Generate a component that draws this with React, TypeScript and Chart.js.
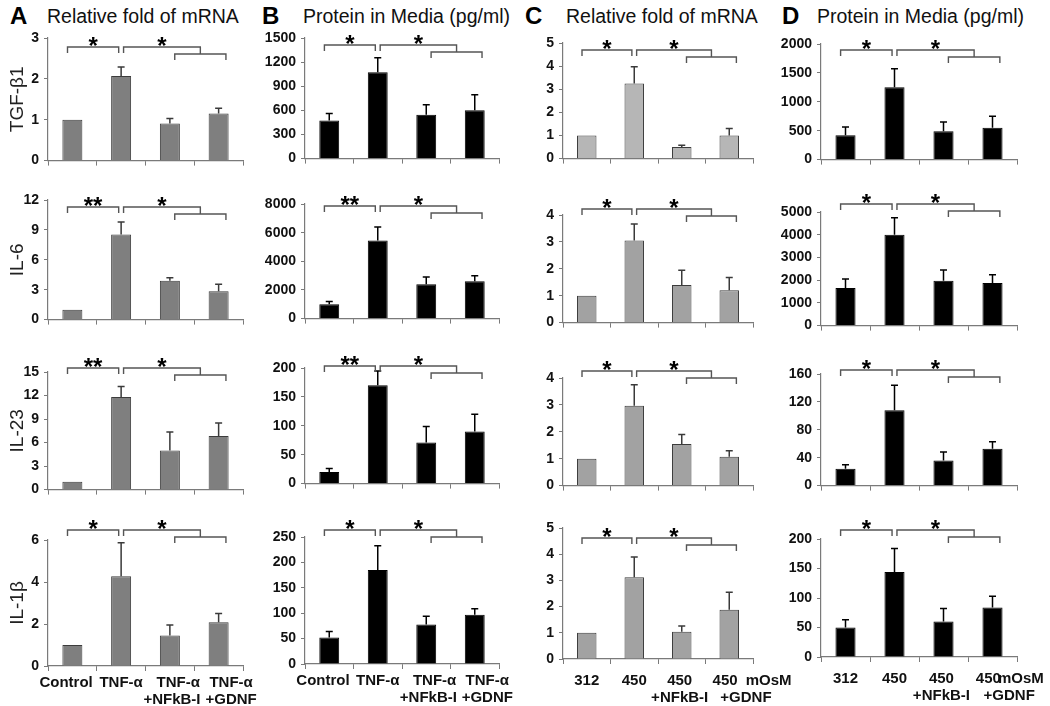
import React, { useEffect, useRef } from "react";
import { Chart, registerables } from "chart.js";
Chart.register(...registerables);

const FONT = "'Liberation Sans', Arial, Helvetica, sans-serif";

// ---- categories / labels ----
const treatmentLabels = [["Control"], ["TNF-α"], ["TNF-α", "+NFkB-I"], ["TNF-α", "+GDNF"]];
const osmLabels = [["312"], ["450"], ["450", "+NFkB-I"], ["450", "+GDNF"]];
const osmUnit = "mOsM";
const cytokines = ["TGF-β1", "IL-6", "IL-23", "IL-1β"];
const panelLetters = ["A", "B", "C", "D"];
const panelTitles = ["Relative fold of mRNA", "Protein in Media (pg/ml)", "Relative fold of mRNA", "Protein in Media (pg/ml)"];

// ---- Column A: relative fold of mRNA (TNF-α) ----
const tgfMrnaA = [1, 2.07, 0.91, 1.15];
const tgfMrnaAErr = [0, 0.22, 0.12, 0.13];
const il6MrnaA = [1, 8.55, 3.9, 2.85];
const il6MrnaAErr = [0, 1.25, 0.3, 0.7];
const il23MrnaA = [1, 11.8, 5.0, 6.85];
const il23MrnaAErr = [0, 1.35, 2.35, 1.65];
const il1bMrnaA = [1, 4.27, 1.45, 2.08];
const il1bMrnaAErr = [0, 1.6, 0.5, 0.42];

// ---- Column B: protein in media (TNF-α) ----
const tgfProtB = [475, 1075, 545, 600];
const tgfProtBErr = [85, 180, 125, 195];
const il6ProtB = [1000, 5450, 2400, 2600];
const il6ProtBErr = [200, 950, 500, 400];
const il23ProtB = [20, 170, 71, 90];
const il23ProtBErr = [6, 25, 28, 30];
const il1bProtB = [52, 185, 78, 97];
const il1bProtBErr = [12, 48, 16, 12];

// ---- Column C: relative fold of mRNA (hyperosmolarity) ----
const tgfMrnaC = [1, 3.25, 0.5, 1.0];
const tgfMrnaCErr = [0, 0.72, 0.08, 0.3];
const il6MrnaC = [1, 3.05, 1.4, 1.2];
const il6MrnaCErr = [0, 0.62, 0.55, 0.48];
const il23MrnaC = [1, 2.97, 1.55, 1.07];
const il23MrnaCErr = [0, 0.78, 0.35, 0.23];
const il1bMrnaC = [1, 3.12, 1.04, 1.88];
const il1bMrnaCErr = [0, 0.77, 0.22, 0.67];

// ---- Column D: protein in media (hyperosmolarity) ----
const tgfProtD = [420, 1250, 490, 550];
const tgfProtDErr = [145, 320, 160, 200];
const il6ProtD = [1650, 4000, 1970, 1870];
const il6ProtDErr = [400, 750, 480, 370];
const il23ProtD = [24, 108, 36, 53];
const il23ProtDErr = [6, 36, 12, 10];
const il1bProtD = [50, 144, 60, 84];
const il1bProtDErr = [13, 40, 22, 19];

// ---- y axis ranges [row][col] ----
const axisMax = [
  [3, 1500, 5, 2000],
  [12, 8000, 4, 5000],
  [15, 200, 4, 160],
  [6, 250, 5, 200],
];
const axisStep = [
  [1, 300, 1, 500],
  [3, 2000, 1, 1000],
  [3, 50, 1, 40],
  [2, 50, 1, 50],
];
const significance = [
  [["*", "*"], ["*", "*"], ["*", "*"], ["*", "*"]],
  [["**", "*"], ["**", "*"], ["*", "*"], ["*", "*"]],
  [["**", "*"], ["**", "*"], ["*", "*"], ["*", "*"]],
  [["*", "*"], ["*", "*"], ["*", "*"], ["*", "*"]],
];

const values = [
  [tgfMrnaA, tgfProtB, tgfMrnaC, tgfProtD],
  [il6MrnaA, il6ProtB, il6MrnaC, il6ProtD],
  [il23MrnaA, il23ProtB, il23MrnaC, il23ProtD],
  [il1bMrnaA, il1bProtB, il1bMrnaC, il1bProtD],
];
const errors = [
  [tgfMrnaAErr, tgfProtBErr, tgfMrnaCErr, tgfProtDErr],
  [il6MrnaAErr, il6ProtBErr, il6MrnaCErr, il6ProtDErr],
  [il23MrnaAErr, il23ProtBErr, il23MrnaCErr, il23ProtDErr],
  [il1bMrnaAErr, il1bProtBErr, il1bMrnaCErr, il1bProtDErr],
];

// ---- layout ----
const colLeft = [0, 256, 516, 776];
const colAxis = [48, 305, 563, 821];
const colRight = [243, 499, 753, 1017];
const plotTop = [
  [38, 38, 43, 44],
  [200, 204, 215, 212],
  [372, 368, 378, 374],
  [540, 537, 528, 539],
];
const plotZero = [
  [168, 166, 166, 167],
  [327, 326, 330, 333],
  [497, 491, 493, 493],
  [666, 664, 659, 657],
];
const bracketOff = [
  [9, 7, 7, 6],
  [7, 2, -6, -8],
  [-4, -2, -7, -4],
  [-10, -7, 10, -9],
];
// horizontal nudge (px) of each tick-label line, per label group
const labelShiftTreat = [[-7], [0], [8, 3], [12, 12]];
const labelShiftOsm = [[0], [-1], [-3, -3], [-4, 16]];
const unitGap = [0, 0, 8, -3];
const letterX = [10, 262, 525, 782];
const titleX = [47, 303, 566, 817];

const AXIS_COLOR = "#7a7a7a";
const TOP_ROOM = 48;
const SPACE_W = 4.17;

function nudge(text: string, shift: number) {
  const n = Math.round((Math.abs(shift) * 2) / SPACE_W);
  const pad = " ".repeat(n);
  return shift >= 0 ? pad + text : text + pad;
}

function barFill(row: number, col: number) {
  if (col === 1 || col === 3) return "#000000";
  if (col === 0) return "#7f7f7f";
  return row === 0 ? "#b6b6b6" : "#a2a2a2";
}

function Panel({ row, col }: { row: number; col: number }) {
  const ref = useRef<HTMLCanvasElement>(null);
  const bottomRow = row === 3;
  const bottomRoom = bottomRow ? 48 : 6;
  const left = colLeft[col];
  const top = plotTop[row][col] - TOP_ROOM;
  const width = col === 3 ? 1050 - left : colRight[col] - left + 46;
  const height = plotZero[row][col] - top + bottomRoom;
  const padRight = width - (colRight[col] - left);
  const yWidth = colAxis[col] - left;

  useEffect(() => {
    const vals = values[row][col];
    const errs = errors[row][col];
    const cats = col < 2 ? treatmentLabels : osmLabels;
    const shifts = col < 2 ? labelShiftTreat : labelShiftOsm;
    const tickPad = col < 2 ? 4 : 9;
    const [s1, s2] = significance[row][col];
    const off = bracketOff[row][col];

    const errPlugin = {
      id: "errbars",
      afterDatasetsDraw(chart: any) {
        const ctx = chart.ctx;
        const ys = chart.scales.y;
        const meta = chart.getDatasetMeta(0);
        ctx.save();
        ctx.strokeStyle = col === 1 || col === 3 ? "#000" : "#3a3a3a";
        ctx.lineWidth = 1.5;
        meta.data.forEach((bar: any, i: number) => {
          const e = errs[i];
          if (!e) return;
          const yb = ys.getPixelForValue(vals[i]);
          const yt = ys.getPixelForValue(vals[i] + e);
          ctx.beginPath();
          ctx.moveTo(bar.x, yb);
          ctx.lineTo(bar.x, yt);
          ctx.moveTo(bar.x - 3.5, yt);
          ctx.lineTo(bar.x + 3.5, yt);
          ctx.stroke();
        });
        ctx.restore();
      },
    };

    const bracketPlugin = {
      id: "brackets",
      afterDraw(chart: any) {
        const ctx = chart.ctx;
        const xs = chart.scales.x;
        const px = (v: number) => xs.getPixelForValue(v);
        const y1 = chart.chartArea.top + off;
        const y2 = y1 + 7;
        const leg = 6;
        const b1 = [-0.1, 0.95];
        const b3 = [2.1, 3.15];
        const b2 = [1.05, (b3[0] + b3[1]) / 2];
        ctx.save();
        ctx.strokeStyle = "#555";
        ctx.lineWidth = 1.4;
        ctx.beginPath();
        ctx.moveTo(px(b1[0]), y1 + leg);
        ctx.lineTo(px(b1[0]), y1);
        ctx.lineTo(px(b1[1]), y1);
        ctx.lineTo(px(b1[1]), y1 + leg);
        ctx.moveTo(px(b2[0]), y1 + leg);
        ctx.lineTo(px(b2[0]), y1);
        ctx.lineTo(px(b2[1]), y1);
        ctx.lineTo(px(b2[1]), y2);
        ctx.moveTo(px(b3[0]), y2 + leg);
        ctx.lineTo(px(b3[0]), y2);
        ctx.lineTo(px(b3[1]), y2);
        ctx.lineTo(px(b3[1]), y2 + leg);
        ctx.stroke();
        ctx.fillStyle = "#000";
        ctx.font = `bold 24px ${FONT}`;
        ctx.textAlign = "center";
        ctx.textBaseline = "alphabetic";
        ctx.fillText(s1, (px(b1[0]) + px(b1[1])) / 2, y1 + 7);
        ctx.fillText(s2, (px(b2[0]) + px(b2[1])) / 2, y1 + 7);
        if (bottomRow && col >= 2) {
          ctx.font = `bold 15px ${FONT}`;
          const w450 = ctx.measureText(cats[3][0]).width;
          ctx.textAlign = "left";
          ctx.textBaseline = "middle";
          ctx.fillStyle = "#111";
          ctx.fillText(osmUnit, px(3) + shifts[3][0] + w450 / 2 + unitGap[col], xs.top + 5 + tickPad + 8.25);
        }
        ctx.restore();
      },
    };

    const chart = new Chart(ref.current!, {
      type: "bar",
      data: {
        labels: cats as any,
        datasets: [
          {
            data: vals,
            backgroundColor: barFill(row, col),
            borderColor: col === 1 || col === 3 ? "#000" : "#3c3c3c",
            borderWidth: 1,
            barPercentage: 0.41,
            categoryPercentage: 1,
          },
        ],
      },
      options: {
        responsive: false,
        animation: false,
        events: [],
        layout: { padding: { left: 0, right: padRight, top: TOP_ROOM, bottom: 0 } },
        plugins: { legend: { display: false }, tooltip: { enabled: false } },
        scales: {
          x: {
            type: "category",
            offset: true,
            afterFit: (s: any) => {
              s.height = bottomRoom;
            },
            grid: {
              offset: true,
              drawOnChartArea: false,
              drawTicks: true,
              tickLength: 5,
              color: AXIS_COLOR,
            },
            border: { display: true, color: AXIS_COLOR, width: 1.2 },
            ticks: {
              display: bottomRow,
              autoSkip: false,
              maxRotation: 0,
              minRotation: 0,
              padding: tickPad,
              color: "#111",
              font: { family: FONT, size: 15, weight: "bold", lineHeight: 1.1 },
              callback: (_v: any, i: number) => cats[i].map((line, j) => nudge(line, shifts[i][j])),
            },
          },
          y: {
            type: "linear",
            min: 0,
            max: axisMax[row][col],
            afterFit: (s: any) => {
              s.width = yWidth;
            },
            grid: { drawOnChartArea: false, drawTicks: true, tickLength: 4, color: AXIS_COLOR },
            border: { display: true, color: AXIS_COLOR, width: 1.2 },
            ticks: {
              stepSize: axisStep[row][col],
              padding: 5,
              color: "#111",
              font: { family: FONT, size: 14, weight: "bold" },
              callback: (v: any) => String(v),
            },
            title: {
              display: col === 0,
              text: cytokines[row],
              color: "#222",
              font: { family: FONT, size: 19, weight: "normal" },
              padding: { top: 6, bottom: 0 },
            },
          },
        },
      },
      plugins: [errPlugin, bracketPlugin],
    } as any);
    return () => chart.destroy();
  }, []);

  return (
    <canvas
      ref={ref}
      width={width}
      height={height}
      style={{ position: "absolute", left, top, width, height }}
    />
  );
}

export default function App() {
  const panels = [];
  for (let r = 0; r < 4; r++) for (let c = 0; c < 4; c++) panels.push(<Panel key={`${r}-${c}`} row={r} col={c} />);
  return (
    <div
      style={{
        position: "absolute",
        left: 0,
        top: 0,
        width: 1050,
        height: 706,
        overflow: "hidden",
        background: "#fff",
        fontFamily: FONT,
      }}
    >
      {panelLetters.map((l, i) => (
        <div
          key={l}
          style={{ position: "absolute", left: letterX[i], top: 2, fontSize: 24, fontWeight: "bold", lineHeight: "28px", color: "#000" }}
        >
          {l}
        </div>
      ))}
      {panelTitles.map((t, i) => (
        <div
          key={i}
          style={{ position: "absolute", left: titleX[i], top: 4, fontSize: 19.5, lineHeight: "24px", color: "#111", whiteSpace: "nowrap" }}
        >
          {t}
        </div>
      ))}
      {panels}
    </div>
  );
}
